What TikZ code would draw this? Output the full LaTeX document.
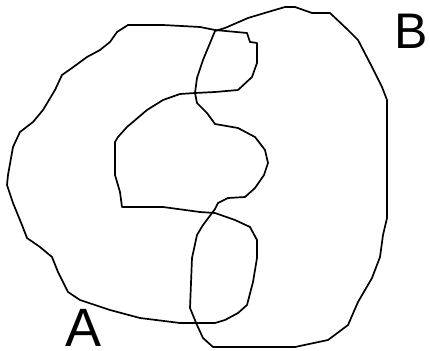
\documentclass[tikz,border=0pt]{standalone}
\usepackage{fontspec}
\setmainfont{Liberation Sans}
\usepackage{xcolor}
\usetikzlibrary{positioning, calc}
\tikzset{
  blob/.style={
    draw=black, line width=1.7pt,
    line join=round, line cap=round
  },
  setlabel/.style={
    font=\fontsize{#1}{#1}\selectfont,
    inner sep=0pt,
    anchor=base,
    text=black
  }
}

\begin{document}
\begin{tikzpicture}[x=1pt, y=-1pt]
  \useasboundingbox (0,0) rectangle (430,350);

  % set A
  \draw[blob] (117,32) -- (128,25) -- (163,25) -- (200,27) -- (215,30) -- (247,33)
    -- (250,42) -- (257,43) -- (257,63) -- (252,77) -- (238,90) -- (215,92)
    -- (195,93) -- (180,94) -- (163,100) -- (147,110) -- (127,127) -- (118,137)
    -- (115,142) -- (115,175) -- (120,192) -- (122,207) -- (163,207) -- (200,212)
    -- (215,213) -- (235,220) -- (250,227) -- (257,240) -- (257,258) -- (253,282)
    -- (247,305) -- (238,313) -- (225,320) -- (215,323) -- (180,323) -- (140,318)
    -- (110,310) -- (80,300) -- (68,292) -- (58,272) -- (52,257) -- (40,247)
    -- (27,238) -- (22,225) -- (13,203) -- (7,185) -- (8,175) -- (13,147)
    -- (20,132) -- (33,122) -- (43,110) -- (55,90) -- (62,75) -- (72,68)
    -- (87,57) -- (100,50) -- (110,42) -- cycle;

  % set B
  \draw[blob] (215,31) -- (203,60) -- (197,78) -- (195,93) -- (197,103) -- (207,113)
    -- (215,124) -- (238,128) -- (255,137) -- (265,150) -- (268,163) -- (264,175)
    -- (255,188) -- (245,197) -- (228,198) -- (218,203) -- (215,209) -- (203,225)
    -- (197,235) -- (192,258) -- (190,308) -- (197,325) -- (203,338) -- (213,347)
    -- (295,347) -- (328,340) -- (348,325) -- (358,302) -- (372,278) -- (380,257)
    -- (383,235) -- (387,218) -- (387,175) -- (387,100) -- (382,87) -- (372,67)
    -- (358,40) -- (348,30) -- (330,13) -- (312,13) -- (295,7) -- (285,7)
    -- (268,12) -- (248,18) -- (225,28) -- cycle;

  \node[setlabel=54] (labA) at (84,346) {A};
  \node[setlabel=50] (labB) at (411,49) {B};
\end{tikzpicture}
\end{document}
